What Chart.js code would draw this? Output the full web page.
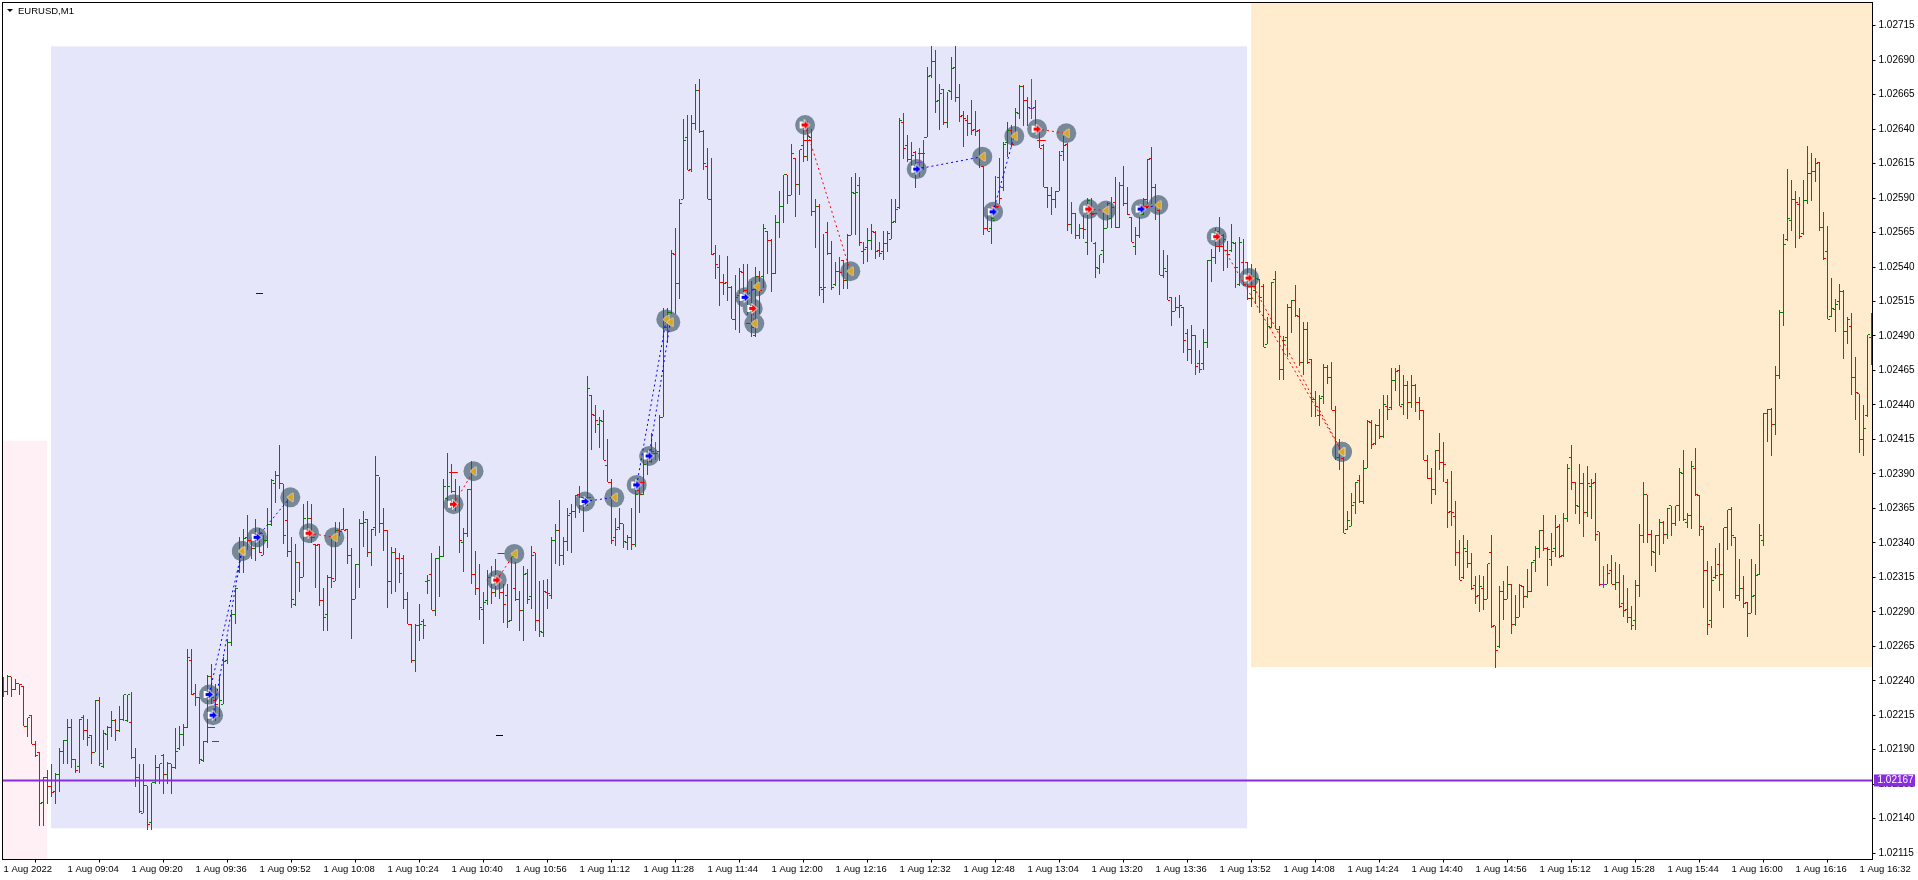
<!DOCTYPE html>
<html>
<head>
<meta charset="utf-8">
<title>EURUSD,M1</title>
<script src="https://cdn.jsdelivr.net/npm/chart.js@4"></script>
<style>
    html, body { margin: 0; padding: 0; background: #fff; overflow: hidden; }
    canvas { display: block; }
</style>
</head>
<body>
<canvas id="chart" width="1918" height="880"></canvas>
<script>
// prices are kept as points above 1.02000
const highs = [
243,244,243,241,238,236,213,215,196,188,
170,175,180,173,191,197,212,212,183,212,
215,212,201,226,228,204,207,218,212,222,
230,230,232,191,180,180,164,166,186,180,
187,181,180,206,207,209,263,263,238,228,
196,244,252,238,244,257,270,290,307,344,
350,360,344,357,351,346,365,386,392,411,
383,373,344,339,326,368,370,368,339,339,
307,317,344,355,355,365,350,336,325,357,
363,357,350,403,388,365,349,337,336,333,
331,304,281,281,296,285,317,333,329,338,
386,405,397,386,381,351,379,399,334,325,
304,320,323,328,317,310,310,330,326,305,
323,321,338,333,312,313,314,344,354,371,
344,365,368,375,381,373,461,447,440,431,
436,415,386,358,365,354,346,365,378,384,
405,407,420,413,433,510,510,552,568,589,
647,650,650,673,676,639,626,619,556,549,
535,548,526,534,539,542,542,530,540,537,
571,566,560,578,595,607,607,629,619,625,
641,646,640,589,586,564,573,559,544,547,
545,564,605,608,605,558,568,571,566,558,
566,566,589,589,648,652,636,631,624,626,
632,685,700,697,673,669,667,692,700,673,
653,650,661,653,640,613,582,576,606,619,
631,645,643,655,672,672,663,676,661,640,
629,598,598,595,624,635,630,587,579,571,
578,590,590,558,549,579,587,591,605,602,
613,598,576,569,576,590,618,627,600,588,
552,549,518,518,520,511,495,498,491,480,
495,545,553,568,576,564,559,571,558,562,
560,544,542,539,531,528,504,529,537,497,
490,513,516,527,510,500,500,473,450,447,
470,469,471,439,415,402,363,376,384,389,
400,429,429,426,437,447,447,467,467,469,
462,457,462,455,446,436,404,394,407,420,
413,386,392,370,342,346,342,333,316,317,
316,325,346,280,309,312,323,310,302,310,
309,321,326,338,349,360,337,347,360,354,
362,397,411,384,397,391,396,386,391,348,
323,325,331,326,325,317,307,294,313,354,
384,375,349,346,357,356,365,367,367,394,
407,362,399,409,375,352,327,323,336,340,
351,364,366,344,328,316,297,328,325,354,
434,437,438,468,509,564,611,603,595,591,
603,628,623,619,616,580,570,532,517,528,
523,504,507,475,448,440,491,507
];
const lows = [
228,230,228,233,230,207,199,194,185,135,
135,151,156,151,159,180,180,177,173,173,
197,193,180,188,178,177,190,199,196,203,
211,210,183,163,144,144,132,132,165,165,
158,165,158,176,190,193,206,230,222,180,
181,195,223,211,214,223,252,265,281,318,
318,335,328,327,333,331,336,352,369,379,
339,330,293,294,304,315,346,340,307,294,
276,276,307,312,345,349,325,270,299,307,
337,330,323,345,347,334,293,303,304,311,
292,281,253,246,269,270,303,291,287,301,
330,370,376,363,333,319,344,310,302,284,
267,295,296,301,299,282,278,283,298,276,
269,296,292,276,272,272,292,299,325,323,
324,334,333,358,362,348,367,407,420,409,
400,384,339,338,349,336,335,335,337,362,
375,389,398,400,399,431,485,506,506,517,
589,610,609,639,637,610,589,549,531,512,
520,515,502,494,492,522,505,489,489,506,
525,535,522,535,561,572,586,592,576,592,
616,617,577,554,519,514,549,523,526,520,
524,524,563,563,555,542,544,552,546,547,
545,551,560,572,582,618,616,611,597,605,
610,634,677,652,639,643,641,661,660,645,
627,635,636,635,612,563,566,557,583,586,
595,620,627,634,647,642,642,647,640,626,
598,583,578,583,595,617,566,564,560,560,
560,549,558,532,535,543,568,568,568,568,
584,578,558,549,561,578,586,586,574,534,
532,516,497,508,503,478,472,470,462,463,
465,481,529,542,551,537,539,551,525,526,
526,516,511,513,507,482,484,496,495,458,
458,475,492,504,468,462,470,431,431,425,
441,455,436,400,393,347,349,352,361,369,
368,394,408,411,415,416,429,436,450,439,
433,430,438,435,429,400,386,368,375,393,
384,351,352,323,313,314,322,306,296,290,
291,299,278,249,264,284,299,274,280,286,
293,300,304,319,329,334,309,323,330,329,
330,355,378,361,354,344,359,357,341,309,
307,310,310,306,293,286,282,277,277,301,
340,340,323,319,331,339,343,345,352,356,
356,351,350,374,345,293,273,278,314,305,
293,335,338,299,298,293,272,289,288,317,
338,413,403,418,459,497,559,566,554,560,
563,586,588,602,566,545,502,504,493,509,
473,484,447,429,405,403,431,469
];
const opens = [
232,232,243,234,238,236,207,215,194,188,
152,170,163,160,172,189,197,206,183,178,
213,204,200,188,226,178,201,206,211,204,
212,211,210,184,170,144,164,137,166,177,
186,172,180,177,191,201,206,255,231,228,
182,196,243,226,215,223,255,268,288,320,
332,344,342,336,346,331,342,353,383,389,
383,356,334,295,326,315,346,358,339,339,
298,288,315,312,349,350,350,331,299,324,
354,357,333,351,389,354,349,312,333,329,
329,299,281,255,280,283,312,317,291,329,
330,372,391,377,368,340,347,379,317,307,
292,298,315,304,315,304,302,284,307,299,
291,318,301,333,284,275,304,302,342,349,
331,341,361,363,375,373,367,447,432,426,
428,396,384,344,351,354,340,344,339,378,
375,405,399,405,406,431,496,507,549,528,
589,634,611,644,668,638,613,589,550,540,
529,529,525,502,519,536,523,512,490,533,
533,566,559,535,572,584,607,592,619,600,
628,620,634,580,584,524,565,550,527,537,
545,530,563,593,599,551,554,559,565,552,
551,557,560,573,583,645,628,618,623,616,
612,634,679,689,661,669,645,667,685,663,
650,646,644,640,639,613,568,568,574,605,
598,630,639,634,651,671,661,655,656,632,
628,598,592,589,595,624,629,571,579,563,
568,558,582,557,539,552,568,575,587,569,
599,586,576,555,563,578,589,619,598,581,
534,537,518,508,511,511,492,480,490,470,
470,485,545,547,566,563,552,552,557,527,
543,543,517,523,531,526,484,496,531,495,
466,489,511,516,504,471,495,473,444,432,
446,467,460,436,402,401,350,352,369,385,
370,394,427,412,425,417,439,438,458,465,
440,454,442,454,442,436,400,387,379,407,
398,384,363,359,333,315,334,325,309,302,
307,299,333,280,265,305,299,310,281,286,
308,301,305,327,336,349,336,328,336,352,
331,358,402,384,366,383,362,381,384,348,
310,310,320,310,311,296,292,286,284,309,
345,375,346,333,345,355,346,367,354,367,
390,355,360,394,374,350,320,284,315,324,
317,351,364,344,302,307,297,289,302,317,
342,434,437,426,461,507,560,574,589,585,
564,588,608,609,616,569,551,504,509,515,
522,493,497,460,448,415,432,489
];
const closes = [
232,243,234,238,237,207,213,194,186,151,
170,163,159,172,189,197,206,183,175,212,
204,199,188,226,180,202,206,211,204,212,
230,230,184,170,145,164,136,166,177,180,
172,180,177,189,201,206,257,230,228,183,
196,243,228,223,226,254,268,288,307,332,
343,342,336,344,333,342,353,385,389,383,
345,334,299,326,315,358,358,346,338,298,
286,315,314,349,348,349,331,299,324,354,
355,333,350,389,354,349,312,333,329,318,
299,281,255,280,281,280,313,291,329,330,
381,381,377,367,342,347,379,317,307,293,
297,315,304,313,304,295,283,330,299,291,
317,299,331,284,276,305,303,342,349,331,
341,360,363,374,368,368,452,433,429,429,
400,384,342,350,354,341,344,339,375,375,
397,400,406,405,431,496,507,550,528,586,
632,610,644,668,638,615,589,549,542,529,
528,525,502,518,537,523,512,496,533,523,
568,559,535,572,584,607,592,622,600,625,
620,635,580,584,525,525,550,525,537,536,
530,563,594,594,558,553,559,566,551,550,
557,564,572,582,646,626,618,621,612,616,
634,678,689,660,666,645,668,684,663,649,
648,644,639,638,620,568,566,575,583,590,
629,639,629,652,671,661,656,655,640,626,
598,592,589,595,621,628,571,579,563,568,
567,588,578,540,549,568,586,583,569,599,
586,578,558,563,578,589,618,598,586,534,
539,516,508,511,512,487,480,490,468,466,
485,545,547,561,555,560,549,558,540,558,
527,517,533,532,518,482,497,529,495,466,
487,511,516,505,471,495,471,444,439,445,
467,460,436,402,407,347,356,367,384,370,
394,428,411,425,417,440,437,458,464,439,
454,442,454,442,436,400,387,379,407,398,
397,362,362,333,313,336,325,307,301,308,
299,325,279,262,305,299,310,281,286,309,
301,305,326,336,349,336,335,334,351,330,
358,394,384,367,383,362,383,383,346,310,
310,318,310,311,294,291,286,280,309,345,
375,346,334,345,355,346,365,354,367,391,
357,360,395,375,352,320,281,313,316,317,
351,364,345,302,307,296,289,301,316,345,
434,437,426,461,507,556,575,589,587,562,
588,608,609,615,569,546,502,510,513,522,
493,502,460,449,415,423,491,475
];

// one label every 16 bars
const timeLabels = ['1 Aug 2022','1 Aug 09:04','1 Aug 09:20','1 Aug 09:36','1 Aug 09:52','1 Aug 10:08',
    '1 Aug 10:24','1 Aug 10:40','1 Aug 10:56','1 Aug 11:12','1 Aug 11:28','1 Aug 11:44','1 Aug 12:00',
    '1 Aug 12:16','1 Aug 12:32','1 Aug 12:48','1 Aug 13:04','1 Aug 13:20','1 Aug 13:36','1 Aug 13:52',
    '1 Aug 14:08','1 Aug 14:24','1 Aug 14:40','1 Aug 14:56','1 Aug 15:12','1 Aug 15:28','1 Aug 15:44',
    '1 Aug 16:00','1 Aug 16:16','1 Aug 16:32'];
const priceTicks = [115,140,165,190,215,240,265,290,315,340,365,390,415,440,465,490,515,540,565,590,615,640,665,690,715];

// trades: bar position and price of entry and exit
const buyEntryX = [51.4,52.4,63.4,145.4,158.3,161.4,185.4,228.3,247.4,284.4];
const buyEntryY = [230,215,344,370,382,403,518,611,580,582];
const buyExitX = [59.6,59.6,71.7,152.7,165.7,166.7,188.3,244.7,252.7,288.7];
const buyExitY = [334,334,373,373,502,500,526,620,635,585];
const sellEntryX = [76.4,112.5,123.3,187.3,200.4,258.4,271.3,303.3,311.4];
const sellEntryY = [347,368,313,510,643,640,582,562,532];
const sellExitX = [82.7,117.5,127.7,187.7,211.7,265.7,275.6,334.6,334.6];
const sellExitY = [344,392,332,499,537,637,581,406,406];

// small order level dashes
const redDashX = [52,53,64,77,112.7,124.4,146,159.4,162.4,186.5,188,201,229.5,248,259.7,272.5,285.5,304,312];
const redDashY = [206,196,347,344,391,332,373,384,405,499,524,632,622,584,632,579,584,555,526];
const blueDashX = [64];
const blueDashY = [521];
const blackDashX = [124];
const blackDashY = [200];

// line, tag as printed on it
const currentPrice = 167.7;
const currentPriceLabel = '1.02167';

// shaded zones: first bar, last bar, low, high
const pinkZone = [-0.25, 10.9, 110, 414];
const blueZone = [11.9, 310.9, 133, 700];
const orangeZone = [311.9, 467.25, 250, 732];

const GREEN = '#007f00';
const RED = '#ff0000';
const PURPLE = '#8a2be2';
const GREY = '#778899';

const xMin = -0.25;
const xMax = 467.25;
const yMin = 110.4;
const yMax = 731.8;

const barIndex = highs.map((v, i) => i);
const barColors = closes.map((c, i) => c > opens[i] ? GREEN : (c < opens[i] ? RED : PURPLE));

function toPoints(xs, ys) {
    return xs.map((x, i) => ({ x: x, y: ys[i] }));
}

function arrowIcon(color) {
    const c = document.createElement('canvas');
    c.width = 13;
    c.height = 11;
    const g = c.getContext('2d');
    g.beginPath();
    g.moveTo(3, 4); g.lineTo(6, 4); g.lineTo(6, 1.5); g.lineTo(10.5, 5.5);
    g.lineTo(6, 9.5); g.lineTo(6, 7); g.lineTo(3, 7);
    g.closePath();
    g.lineWidth = 1.5;
    g.strokeStyle = '#fff';
    g.stroke();
    g.fillStyle = '#fff';
    g.fillRect(1, 2, 3, 7);
    g.fillStyle = color;
    g.fill();
    return c;
}

function exitIcon() {
    const c = document.createElement('canvas');
    c.width = 11;
    c.height = 13;
    const g = c.getContext('2d');
    g.beginPath();
    g.moveTo(2, 6.5); g.lineTo(8, 2); g.lineTo(8, 11);
    g.closePath();
    g.lineWidth = 1;
    g.strokeStyle = '#fff';
    g.stroke();
    g.fillStyle = '#daa520';
    g.fill();
    return c;
}

function markerSet(points, style, radius, order, color) {
    return {
        type: 'line',
        data: points,
        showLine: false,
        pointStyle: style,
        pointRadius: radius,
        pointBackgroundColor: color,
        pointBorderColor: color,
        pointBorderWidth: 0,
        order: order
    };
}

function dashSet(points, color) {
    return {
        type: 'line',
        data: points,
        showLine: false,
        pointStyle: 'line',
        pointRadius: 3.5,
        pointBorderWidth: 1,
        pointBorderColor: color,
        snap: true,
        order: 6
    };
}

function tickSet(xs, ys, side) {
    return {
        type: 'line',
        data: toPoints(xs.map(x => x + side * 0.375), ys),
        showLine: false,
        pointStyle: 'line',
        pointRadius: 1,
        pointBorderWidth: 1,
        pointBorderColor: barColors,
        snap: true,
        order: 7
    };
}

function tradeLine(x1, y1, x2, y2, color) {
    return {
        type: 'line',
        data: [{ x: x1, y: y1 }, { x: x2, y: y2 }],
        borderColor: color,
        borderWidth: 1,
        borderDash: [2, 3],
        pointRadius: 0,
        order: 4
    };
}

const datasets = [];

// grey discs go under the bars
datasets.push(markerSet(toPoints(buyEntryX.concat(sellEntryX, buyExitX, sellExitX),
    buyEntryY.concat(sellEntryY, buyExitY, sellExitY)), 'circle', 10, 9, GREY));

datasets.push({
    type: 'bar',
    data: barIndex.map(i => ({ x: i, y: [lows[i], highs[i]] })),
    backgroundColor: barColors,
    barThickness: 1,
    inflateAmount: 0,
    grouped: false,
    snap: true,
    order: 8
});
datasets.push(tickSet(barIndex, opens, -1));
datasets.push(tickSet(barIndex, closes, 1));

datasets.push(dashSet(toPoints(redDashX, redDashY), RED));
datasets.push(dashSet(toPoints(blueDashX, blueDashY), '#0000ff'));
datasets.push(dashSet(toPoints(blackDashX, blackDashY), '#000'));

buyEntryX.forEach((x, i) => datasets.push(tradeLine(x, buyEntryY[i], buyExitX[i], buyExitY[i], '#0000ff')));
sellEntryX.forEach((x, i) => datasets.push(tradeLine(x, sellEntryY[i], sellExitX[i], sellExitY[i], RED)));

datasets.push({
    type: 'line',
    data: [{ x: xMin, y: currentPrice }, { x: xMax, y: currentPrice }],
    borderColor: PURPLE,
    borderWidth: 2,
    pointRadius: 0,
    order: 3
});

datasets.push(markerSet(toPoints(buyEntryX, buyEntryY), arrowIcon('#0000ff'), 6, 1));
datasets.push(markerSet(toPoints(sellEntryX, sellEntryY), arrowIcon(RED), 6, 1));
datasets.push(markerSet(toPoints(buyExitX.concat(sellExitX), buyExitY.concat(sellExitY)), exitIcon(), 6, 1));

const chartDecor = {
    id: 'chartDecor',
    // keep 1px bars and ticks on whole pixels
    afterDatasetsUpdate(chart) {
        chart.data.datasets.forEach((ds, n) => {
            if (!ds.snap) return;
            chart.getDatasetMeta(n).data.forEach(el => {
                if (ds.type === 'bar') {
                    el.y = Math.round(el.y);
                    el.base = Math.round(el.base);
                } else {
                    el.y = Math.floor(el.y) + 0.5;
                }
            });
        });
    },
    beforeDatasetsDraw(chart) {
        const { ctx, scales: { x, y }, chartArea } = chart;
        const zone = (z, color) => {
            const left = x.getPixelForValue(z[0]);
            const right = x.getPixelForValue(z[1]);
            const top = Math.max(y.getPixelForValue(z[3]), chartArea.top);
            const bottom = Math.min(y.getPixelForValue(z[2]), chartArea.bottom);
            ctx.fillStyle = color;
            ctx.fillRect(left, top, right - left, bottom - top);
        };
        zone(pinkZone, '#fff0f5');
        zone(blueZone, '#e6e6fa');
        zone(orangeZone, '#ffebcd');
    },
    afterDraw(chart) {
        const { ctx, scales: { y }, chartArea } = chart;
        ctx.save();
        ctx.strokeStyle = '#000';
        ctx.lineWidth = 1;
        ctx.strokeRect(chartArea.left, chartArea.top, chartArea.right - chartArea.left, chartArea.bottom - chartArea.top);

        // current price tag
        const py = y.getPixelForValue(currentPrice);
        ctx.fillStyle = PURPLE;
        ctx.fillRect(chartArea.right + 1.5, py - 6, 41, 12);
        ctx.fillStyle = '#fff';
        ctx.font = '10px "Liberation Sans"';
        ctx.textBaseline = 'middle';
        ctx.fillText(currentPriceLabel, chartArea.right + 5, py);

        // title with the small drop arrow
        ctx.fillStyle = '#000';
        ctx.beginPath();
        ctx.moveTo(7, 9); ctx.lineTo(13, 9); ctx.lineTo(10, 12);
        ctx.closePath();
        ctx.fill();
        ctx.font = '9.5px "Liberation Sans"';
        ctx.fillText('EURUSD,M1', 18, 11);
        ctx.restore();
    }
};

// no extra room for the edge tick labels, the plot area is fixed
function dropLabelPadding(scale) {
    scale.paddingLeft = 0;
    scale.paddingRight = 0;
    scale.paddingTop = 0;
    scale.paddingBottom = 0;
}

new Chart(document.getElementById('chart'), {
    data: { datasets: datasets },
    plugins: [chartDecor],
    options: {
        responsive: false,
        animation: false,
        events: [],
        layout: { autoPadding: false, padding: { left: 2.5, top: 2.5, right: 0, bottom: 0 } },
        plugins: { legend: { display: false }, tooltip: { enabled: false } },
        scales: {
            x: {
                type: 'linear',
                offset: false,
                min: xMin,
                max: xMax,
                grid: { drawOnChartArea: false, color: '#000', tickLength: 3 },
                border: { color: '#000' },
                afterBuildTicks(scale) {
                    scale.ticks = timeLabels.map((t, i) => ({ value: i * 16 }));
                },
                afterFit(scale) {
                    scale.height = 20.5;
                    dropLabelPadding(scale);
                },
                ticks: {
                    autoSkip: false,
                    maxRotation: 0,
                    align: 'start',
                    padding: 1,
                    color: '#000',
                    font: { family: '"Liberation Sans"', size: 9.5 },
                    callback: (v, i) => timeLabels[i]
                }
            },
            y: {
                position: 'right',
                min: yMin,
                max: yMax,
                grid: { drawOnChartArea: false, color: '#000', tickLength: 3 },
                border: { color: '#000' },
                afterBuildTicks(scale) {
                    scale.ticks = priceTicks.map(v => ({ value: v }));
                },
                afterFit(scale) {
                    scale.width = 45.5;
                    dropLabelPadding(scale);
                },
                ticks: {
                    autoSkip: false,
                    padding: 3,
                    color: '#000',
                    font: { family: '"Liberation Sans"', size: 10 },
                    callback: v => (1.02 + v / 1e5).toFixed(5)
                }
            }
        }
    }
});
</script>
</body>
</html>
